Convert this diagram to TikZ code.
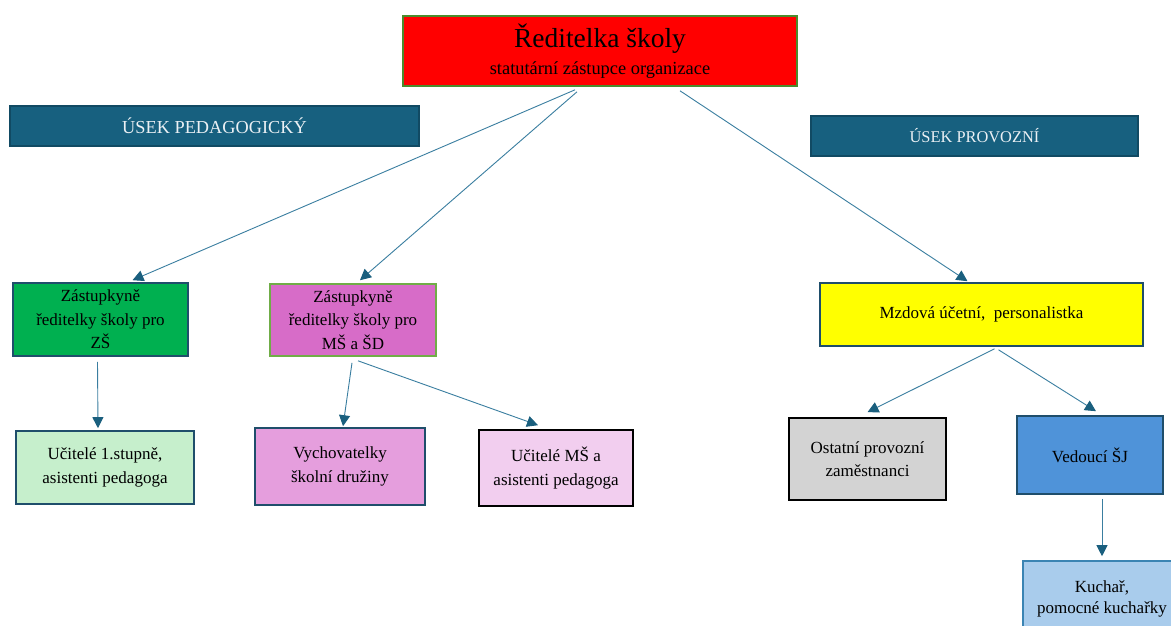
\documentclass[tikz,border=0pt]{standalone}
\usepackage{fontspec}
\setmainfont{Liberation Serif}
\usetikzlibrary{arrows.meta}
\definecolor{hdrfill}{RGB}{23,96,127}
\definecolor{hdrdraw}{RGB}{17,74,99}
\definecolor{hdrtext}{RGB}{235,240,244}
\definecolor{dkblue}{RGB}{31,78,107}
\definecolor{topdraw}{RGB}{74,140,44}
\definecolor{zsfill}{RGB}{0,176,80}
\definecolor{msfill}{RGB}{215,108,200}
\definecolor{msdraw}{RGB}{112,173,71}
\definecolor{ucfill}{RGB}{198,239,204}
\definecolor{vyfill}{RGB}{229,158,221}
\definecolor{umfill}{RGB}{242,206,239}
\definecolor{ostfill}{RGB}{211,211,211}
\definecolor{vedfill}{RGB}{79,147,217}
\definecolor{kufill}{RGB}{169,204,236}
\definecolor{kudraw}{RGB}{59,132,179}
\definecolor{linec}{RGB}{58,126,160}
\definecolor{tipc}{RGB}{26,95,126}
\definecolor{ylw}{RGB}{255,255,0}
\tikzset{
  box/.style={draw=dkblue, line width=1.6pt, inner sep=0pt, align=center,
    font=\fontsize{17}{23.5}\selectfont, text=black},
  hdr/.style={draw=hdrdraw, fill=hdrfill, line width=1.2pt, inner sep=0pt,
    align=center, text=hdrtext},
  conn/.style={draw=linec, line width=0.9pt,
    -{Triangle[length=11pt,width=11pt,color=tipc]}}
}
\begin{document}
\begin{tikzpicture}[x=1pt,y=-1pt]
\useasboundingbox[fill=white] (0,0) rectangle (1171,625);
% top
\node[box, draw=topdraw, fill=red, minimum width=394pt, minimum height=70pt] (top) at (600,51)
  {\fontsize{27.5}{28}\selectfont Ředitelka školy\\[3pt]\fontsize{18.4}{22}\selectfont statutární zástupce organizace};
% section headers
\node[hdr, minimum width=409pt, minimum height=40pt, font=\fontsize{18.3}{20}\selectfont] (ped) at (214.5,126) {ÚSEK PEDAGOGICKÝ};
\node[hdr, minimum width=327pt, minimum height=40pt, font=\fontsize{16.4}{20}\selectfont] (prov) at (974.5,136) {ÚSEK PROVOZNÍ};
% level 2
\node[box, fill=zsfill, minimum width=175pt, minimum height=73pt] (zs) at (100.5,319.5)
  {Zástupkyně\\ředitelky školy pro\\ZŠ};
\node[box, draw=msdraw, fill=msfill, minimum width=166pt, minimum height=72pt] (ms) at (353,320)
  {Zástupkyně\\ředitelky školy pro\\MŠ a ŠD};
\node[box, fill=ylw, minimum width=323pt, minimum height=63pt] (mzd) at (981.5,314.5)
  {Mzdová účetní,~ personalistka};
% level 3
\node[box, fill=ucfill, minimum width=178pt, minimum height=73pt] (uc1) at (105,467.5)
  {Učitelé 1.stupně,\\asistenti pedagoga};
\node[box, fill=vyfill, minimum width=170pt, minimum height=77pt] (vych) at (340,466.5)
  {Vychovatelky\\školní družiny};
\node[box, draw=black, fill=umfill, minimum width=154pt, minimum height=76pt] (ucms) at (556,468)
  {Učitelé MŠ a\\asistenti pedagoga};
\node[box, draw=black, fill=ostfill, minimum width=157pt, minimum height=82pt] (ost) at (867.5,459)
  {Ostatní provozní\\zaměstnanci};
\node[box, fill=vedfill, minimum width=146pt, minimum height=78pt] (ved) at (1090,455)
  {Vedoucí ŠJ};
\node[box, draw=kudraw, fill=kufill, minimum width=158pt, minimum height=76pt,
  font=\fontsize{17}{21}\selectfont] (kuch) at (1102,599)
  {Kuchař,\\pomocné kuchařky};
% connectors
\draw[conn] ([xshift=-25pt,yshift=-3pt]top.south) -- ([xshift=32pt,yshift=2pt]zs.north);
\draw[conn] ([xshift=-23pt,yshift=-5pt]top.south) -- ([xshift=7pt,yshift=3pt]ms.north);
\draw[conn] ([xshift=80pt,yshift=-4pt]top.south) -- ([xshift=-14pt,yshift=1pt]mzd.north);
\draw[conn] ([xshift=-3pt,yshift=-5pt]zs.south) -- ([xshift=-7pt,yshift=2pt]uc1.north);
\draw[conn] ([xshift=-1pt,yshift=-6pt]ms.south) -- ([xshift=3pt,yshift=1pt]vych.north);
\draw[conn] ([xshift=5pt,yshift=-4pt]ms.south) -- ([xshift=-18pt,yshift=4pt]ucms.north);
\draw[conn] ([xshift=13pt,yshift=-2pt]mzd.south) -- ([yshift=5pt]ost.north);
\draw[conn] ([xshift=17pt,yshift=-3pt]mzd.south) -- ([xshift=6pt,yshift=4pt]ved.north);
\draw[conn] ([xshift=12pt,yshift=-4pt]ved.south) -- ([yshift=4pt]kuch.north);
\end{tikzpicture}
\end{document}
